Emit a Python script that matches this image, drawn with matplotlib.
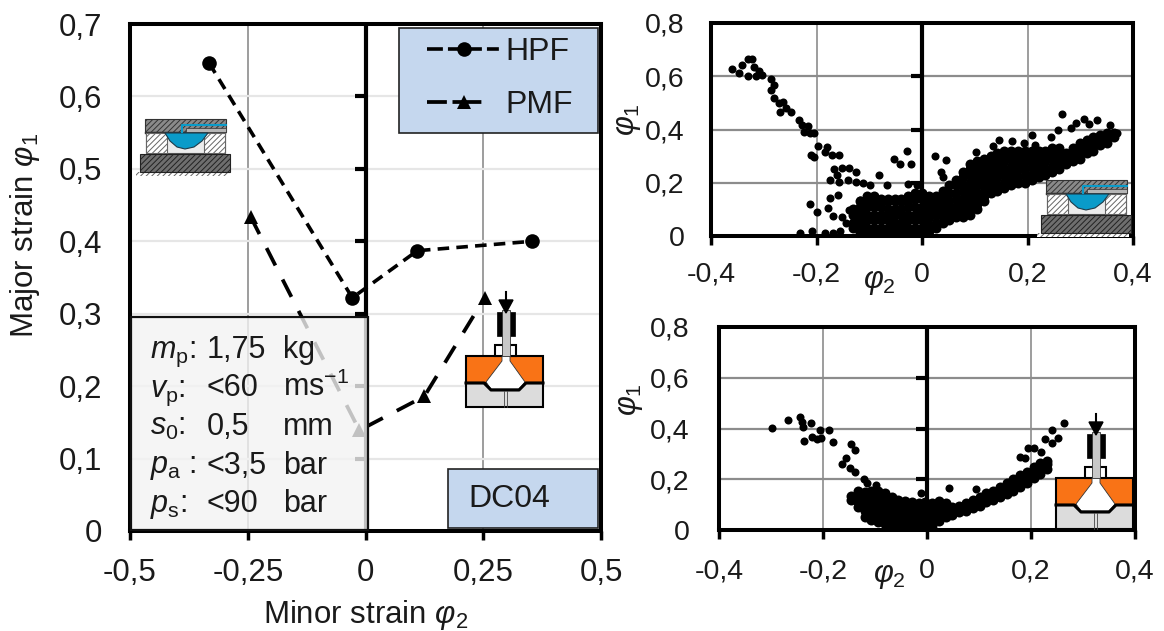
"""Forming limit style chart: main strain plot with two scatter panels."""
import matplotlib
matplotlib.use("Agg")
import matplotlib.pyplot as plt
from matplotlib.lines import Line2D
from matplotlib.patches import Polygon, Rectangle

plt.rcParams["font.family"] = ["Liberation Sans", "DejaVu Sans"]
plt.rcParams["mathtext.fontset"] = "custom"
plt.rcParams["mathtext.rm"] = "Liberation Sans"
plt.rcParams["mathtext.it"] = "Liberation Sans:italic"
plt.rcParams["mathtext.bf"] = "Liberation Sans:bold"
plt.rcParams["hatch.linewidth"] = 0.7

W, H = 1164, 631
INK = "#1a1a1a"

# Main chart
hpf_phi2 = [-0.332, -0.028, 0.110, 0.354]
hpf_phi1 = [0.646, 0.322, 0.387, 0.400]
pmf_phi2 = [-0.244, -0.013, 0.125, 0.253]
pmf_phi1 = [0.434, 0.139, 0.186, 0.322]
main_xticks = [-0.5, -0.25, 0, 0.25, 0.5]
main_xlabels = ["-0,5", "-0,25", "0", "0,25", "0,5"]
main_yticks = [0, 0.1, 0.2, 0.3, 0.4, 0.5, 0.6, 0.7]
main_ylabels = ["0", "0,1", "0,2", "0,3", "0,4", "0,5", "0,6", "0,7"]

# Parameter box
param_names = ["$m_{\\mathrm{p}}$:", "$v_{\\mathrm{p}}$:", "$s_{0}$:", "$p_{\\mathrm{a}}$ :", "$p_{\\mathrm{s}}$:"]
param_values = ["1,75", "<60", "0,5", "<3,5", "<90"]
param_units = ["kg", "ms$^{-1}$", "mm", "bar", "bar"]

# Small panels
small_xticks = [-0.4, -0.2, 0, 0.2, 0.4]
small_xlabels = ["-0,4", "-0,2", "0", "0,2", "0,4"]
small_yticks = [0, 0.2, 0.4, 0.6, 0.8]
small_ylabels = ["0", "0,2", "0,4", "0,6", "0,8"]

# HPF scatter, loose points
top_x = [-0.360, -0.347, -0.342, -0.330, -0.322, -0.330, -0.319, -0.309, -0.314, -0.304,
         -0.286, -0.280, -0.286, -0.280, -0.271, -0.263, -0.270, -0.257, -0.249, -0.234,
         -0.227, -0.217, -0.224, -0.212, -0.204, -0.197, -0.181, -0.184, -0.210, -0.204,
         -0.171, -0.158, -0.166, -0.151, -0.138, -0.125, -0.161, -0.174, -0.158, -0.141,
         -0.125, -0.112, -0.099, -0.082, -0.066, -0.053, -0.041, -0.029, -0.021, -0.026,
         -0.010, 0.025, 0.046, 0.036, 0.039, 0.102, 0.135, 0.146, 0.171, 0.194,
         0.209, 0.214, 0.245, 0.258, 0.2645, 0.283, 0.291, 0.308, 0.316, 0.332,
         0.357, 0.370, -0.212, -0.200, -0.174, -0.178, -0.159, -0.169, -0.232, -0.209,
         -0.184, -0.168, -0.155, -0.151, -0.138, -0.118, -0.145]
top_y = [0.626, 0.612, 0.641, 0.663, 0.666, 0.600, 0.635, 0.620, 0.600, 0.604,
         0.588, 0.566, 0.550, 0.520, 0.498, 0.504, 0.466, 0.479, 0.466, 0.435,
         0.416, 0.412, 0.391, 0.388, 0.385, 0.338, 0.335, 0.316, 0.304, 0.298,
         0.306, 0.304, 0.250, 0.254, 0.256, 0.241, 0.229, 0.212, 0.204, 0.210,
         0.204, 0.198, 0.191, 0.229, 0.191, 0.291, 0.272, 0.319, 0.272, 0.195,
         0.191, 0.300, 0.285, 0.241, 0.222, 0.314, 0.339, 0.362, 0.358, 0.350,
         0.379, 0.341, 0.372, 0.400, 0.458, 0.404, 0.425, 0.441, 0.422, 0.435,
         0.416, 0.388, 0.122, 0.089, 0.144, 0.104, 0.154, 0.075, 0.012, 0.019,
         0.012, 0.012, 0.019, 0.072, 0.098, 0.135, 0.048]

# HPF scatter, dense cloud listed column by column
top_cloud_x = [-0.130, -0.117, -0.104, -0.091, -0.078, -0.065, -0.052, -0.039, -0.026, -0.013,
               0.000, 0.013, 0.026, 0.039, 0.052, 0.065, 0.078, 0.091, 0.104, 0.117,
               0.130, 0.143, 0.156, 0.169, 0.182, 0.195, 0.208, 0.221, 0.234, 0.247,
               0.260, 0.273, 0.286, 0.299, 0.312, 0.325, 0.338, 0.351, 0.364]
top_cloud_y = [
    [0.03, 0.05, 0.08, 0.10],
    [0.01, 0.04, 0.06, 0.09, 0.11, 0.13],
    [0.01, 0.03, 0.06, 0.08, 0.11, 0.13, 0.15],
    [0.01, 0.03, 0.06, 0.08, 0.11, 0.13, 0.15],
    [0.01, 0.03, 0.06, 0.08, 0.11, 0.13, 0.14],
    [0.01, 0.03, 0.06, 0.08, 0.10, 0.13, 0.14],
    [0.01, 0.03, 0.05, 0.08, 0.10, 0.13, 0.14],
    [0.01, 0.03, 0.05, 0.08, 0.10, 0.13, 0.14],
    [0.01, 0.03, 0.06, 0.08, 0.11, 0.13, 0.15],
    [0.01, 0.03, 0.06, 0.08, 0.11, 0.14, 0.16],
    [0.01, 0.03, 0.06, 0.09, 0.11, 0.14, 0.16],
    [0.02, 0.04, 0.07, 0.09, 0.12, 0.15],
    [0.03, 0.05, 0.08, 0.10, 0.13, 0.15],
    [0.05, 0.07, 0.09, 0.12, 0.14, 0.17],
    [0.06, 0.08, 0.11, 0.13, 0.16, 0.19],
    [0.07, 0.09, 0.11, 0.14, 0.16, 0.19, 0.21],
    [0.07, 0.09, 0.12, 0.14, 0.17, 0.19, 0.22, 0.24],
    [0.08, 0.10, 0.13, 0.15, 0.18, 0.20, 0.23, 0.25, 0.27],
    [0.10, 0.12, 0.14, 0.16, 0.19, 0.21, 0.24, 0.26, 0.28],
    [0.13, 0.15, 0.17, 0.19, 0.22, 0.24, 0.27, 0.29],
    [0.16, 0.18, 0.21, 0.23, 0.26, 0.28, 0.30],
    [0.17, 0.19, 0.22, 0.24, 0.27, 0.29, 0.31],
    [0.18, 0.20, 0.23, 0.25, 0.28, 0.30, 0.32],
    [0.19, 0.21, 0.24, 0.26, 0.29, 0.31, 0.32],
    [0.20, 0.22, 0.25, 0.27, 0.30, 0.32],
    [0.20, 0.23, 0.25, 0.28, 0.30, 0.32],
    [0.21, 0.23, 0.26, 0.28, 0.30, 0.32],
    [0.22, 0.24, 0.27, 0.30, 0.32],
    [0.23, 0.25, 0.28, 0.30, 0.32],
    [0.24, 0.26, 0.29, 0.31, 0.33],
    [0.25, 0.27, 0.30, 0.32, 0.33],
    [0.27, 0.29, 0.31],
    [0.28, 0.30, 0.33],
    [0.29, 0.31, 0.34, 0.35],
    [0.31, 0.33, 0.36],
    [0.32, 0.34, 0.37],
    [0.34, 0.36, 0.38],
    [0.35, 0.37, 0.385],
    [0.37, 0.385],
]

# PMF scatter, loose points
bot_x = [-0.298, -0.268, -0.244, -0.241, -0.238, -0.223, -0.236, -0.221, -0.211, -0.205,
         -0.203, -0.188, -0.180, -0.146, -0.138, -0.156, -0.163, -0.148, -0.138, -0.121,
         -0.115, -0.098, -0.011, 0.042, 0.095, 0.195, 0.205, 0.179, 0.189, 0.227,
         0.241, 0.263, 0.251, 0.241, 0.219]
bot_y = [0.403, 0.433, 0.446, 0.426, 0.407, 0.420, 0.352, 0.365, 0.357, 0.394,
         0.361, 0.394, 0.346, 0.337, 0.315, 0.282, 0.261, 0.243, 0.230, 0.200,
         0.186, 0.177, 0.144, 0.164, 0.160, 0.322, 0.322, 0.289, 0.282, 0.357,
         0.396, 0.420, 0.361, 0.341, 0.308]

# PMF scatter, dense cloud listed column by column
bot_cloud_x = [-0.146, -0.133, -0.120, -0.107, -0.094, -0.081, -0.068, -0.055, -0.042, -0.029,
               -0.016, -0.003, 0.010, 0.023, 0.036, 0.049, 0.062, 0.075, 0.088, 0.101,
               0.114, 0.127, 0.140, 0.153, 0.166, 0.179, 0.192, 0.205, 0.218, 0.231]
bot_cloud_y = [
    [0.12, 0.135],
    [0.09, 0.11, 0.135, 0.155],
    [0.05, 0.075, 0.10, 0.125, 0.15],
    [0.04, 0.06, 0.085, 0.11, 0.13, 0.155],
    [0.03, 0.05, 0.075, 0.10, 0.12, 0.145, 0.155],
    [0.025, 0.045, 0.07, 0.09, 0.115, 0.135, 0.145],
    [0.02, 0.04, 0.065, 0.085, 0.11, 0.13],
    [0.015, 0.035, 0.06, 0.08, 0.10, 0.12],
    [0.01, 0.03, 0.055, 0.08, 0.10, 0.115],
    [0.0, 0.025, 0.05, 0.075, 0.10, 0.11],
    [0.0, 0.025, 0.05, 0.075, 0.095, 0.105],
    [0.0, 0.025, 0.05, 0.075, 0.10, 0.11],
    [0.015, 0.035, 0.06, 0.085, 0.105],
    [0.035, 0.055, 0.08, 0.105, 0.115],
    [0.05, 0.07, 0.09, 0.105],
    [0.06, 0.075, 0.09],
    [0.07, 0.085, 0.095],
    [0.075, 0.09, 0.105],
    [0.085, 0.10, 0.12],
    [0.095, 0.115, 0.13],
    [0.11, 0.13, 0.145],
    [0.12, 0.14, 0.155],
    [0.13, 0.15, 0.17],
    [0.14, 0.16, 0.185],
    [0.155, 0.175, 0.20],
    [0.17, 0.19, 0.215],
    [0.185, 0.205, 0.23],
    [0.205, 0.225, 0.25],
    [0.22, 0.24, 0.265],
    [0.24, 0.26, 0.27],
]


def axes_px(fig, left, top, right, bottom):
    return fig.add_axes([left / W, 1 - bottom / H, (right - left) / W, (bottom - top) / H])


def style_axes(ax, xt, xl, yt, yl, xlim, ylim, fs, ypad, xpad, ygrid):
    ax.set_xlim(xlim)
    ax.set_ylim(ylim)
    ax.set_xticks(xt, xl, fontsize=fs)
    ax.set_yticks(yt, yl, fontsize=fs)
    ax.tick_params(axis="x", length=6.5, width=2.5, pad=xpad, color="black", labelcolor=INK)
    ax.tick_params(axis="y", length=0, pad=ypad, labelcolor=INK)
    ax.grid(True, axis="x", color="#8c8c8c", lw=1.2)
    ax.grid(True, axis="y", color=ygrid, lw=1.6)
    ax.set_axisbelow(True)
    for spine in ax.spines.values():
        spine.set_linewidth(2.9)
    # y axis crosses at x=0, its ticks point to the left of it
    ax.axvline(0, color="black", lw=3, zorder=2)
    ax.plot([0] * (len(yt) - 2), yt[1:-1], ls="none", marker=0, ms=8, mew=3, color="black", zorder=2)


def scatter_panel(ax, x, y, cloud_x, cloud_y):
    ax.plot(x, y, "o", color="black", ms=5.8, mew=0, zorder=3)
    for cx, ys in zip(cloud_x, cloud_y):
        ax.plot([cx] * len(ys), ys, "o", color="black", ms=7.2, mew=0, zorder=3)


def rect(ov, x0, y0, x1, y1, fc, ec="black", lw=0.8, hatch=None, z=5):
    ov.add_patch(Rectangle((x0, y0), x1 - x0, y1 - y0, facecolor=fc, edgecolor=ec,
                           lw=lw, hatch=hatch, zorder=z))


def hpf_icon(ov, ox, oy):
    dark = "#333333"
    # top plate with the fluid channel
    rect(ov, ox + 5, oy, ox + 86, oy + 13, "#8a8a8a", ec=dark, hatch="//////")
    rect(ov, ox + 5, oy + 13, ox + 86, oy + 15, "#333333", ec="#333333", lw=0.3)
    rect(ov, ox + 46, oy + 9, ox + 86, oy + 13, "#b5b5b5", ec=dark, lw=0.5, z=6)
    ov.plot([ox + 42, ox + 42, ox + 86], [oy + 13, oy + 6, oy + 6], color="#0a9bc9", lw=1.5, zorder=7)
    # die with blue dome
    rect(ov, ox + 6, oy + 14, ox + 85, oy + 34, "#ececec", ec="#555555")
    rect(ov, ox + 6, oy + 14, ox + 27, oy + 34, "white", ec="#666666", hatch="//////")
    rect(ov, ox + 64, oy + 14, ox + 85, oy + 34, "white", ec="#666666", hatch="//////")
    dome = [(ox + 25, oy + 14), (ox + 68, oy + 14), (ox + 62, oy + 22), (ox + 54, oy + 28),
            (ox + 45, oy + 30), (ox + 37, oy + 28), (ox + 30, oy + 22)]
    ov.add_patch(Polygon(dome, closed=True, facecolor="#0a9bc9", edgecolor="#1d3b4a", lw=0.8, zorder=6))
    # base plate and ground line
    rect(ov, ox, oy + 35, ox + 90, oy + 53, "#6e6e6e", ec="#222222", hatch="//////")
    ov.add_patch(Rectangle((ox - 4, oy + 53), 92, 3.5, facecolor="white", edgecolor="#666666",
                           lw=0, hatch="//////", zorder=4))


def pmf_icon(ov, ox, oy):
    # ox, oy is the top left corner of the orange die
    rect(ov, ox, oy, ox + 77, oy + 27, "#f97316", ec="black", lw=1.5)
    rect(ov, ox, oy + 27, ox + 77, oy + 51, "#dcdcdc", ec="black", lw=1.5)
    funnel = [(ox + 36, oy), (ox + 44, oy), (ox + 44, oy + 5), (ox + 59, oy + 26), (ox + 53, oy + 33),
              (ox + 25, oy + 33), (ox + 20, oy + 26), (ox + 36, oy + 5)]
    ov.add_patch(Polygon(funnel, closed=True, facecolor="white", edgecolor="#333333", lw=0.6, zorder=6))
    # sheet lying in the die
    ov.plot([ox, ox + 18, ox + 25, ox + 53, ox + 60, ox + 77],
            [oy + 27, oy + 27, oy + 34, oy + 34, oy + 27, oy + 27], color="black", lw=2.2, zorder=7)
    ov.plot([ox + 38, ox + 38], [oy + 35, oy + 51], color="#444444", lw=0.6, zorder=7)
    ov.plot([ox + 41, ox + 41], [oy + 35, oy + 51], color="#444444", lw=0.6, zorder=7)
    # injector above the die
    rect(ov, ox + 29, oy - 11, ox + 50, oy, "white", ec="black", lw=1.5)
    rect(ov, ox + 31, oy - 44, ox + 49, oy - 20, "black", ec="black", lw=0.5)
    rect(ov, ox + 36, oy - 46, ox + 44, oy, "#c8c8c8", ec="#333333", lw=0.6, z=7)
    ov.add_patch(Polygon([(ox + 33, oy - 56), (ox + 47, oy - 56), (ox + 40, oy - 43)],
                         closed=True, facecolor="black", edgecolor="black", zorder=8))
    ov.plot([ox + 40, ox + 40], [oy - 64, oy - 50], color="black", lw=1.5, zorder=8)


fig = plt.figure(figsize=(W / 100, H / 100), dpi=100, facecolor="white")

ax = axes_px(fig, 130, 24, 601, 531)
style_axes(ax, main_xticks, main_xlabels, main_yticks, main_ylabels,
           (-0.5, 0.5), (0, 0.7), 22.5, 20, 13, "#e6e6e6")
ax.plot(hpf_phi2, hpf_phi1, color="black", lw=2.6, ls=(0, (3.2, 2.0)),
        marker="o", ms=10.5, mew=0, zorder=4, clip_on=False)
ax.plot(pmf_phi2, pmf_phi1, color="black", lw=2.7, ls=(0, (5.2, 4.2)),
        marker="^", ms=10, mew=0, zorder=4, clip_on=False)

ax_top = axes_px(fig, 711, 23, 1133, 236)
style_axes(ax_top, small_xticks, small_xlabels, small_yticks, small_ylabels,
           (-0.4, 0.4), (0, 0.8), 20.5, 19, 12, "#8c8c8c")
scatter_panel(ax_top, top_x, top_y, top_cloud_x, top_cloud_y)

ax_bot = axes_px(fig, 719, 327, 1135, 530)
style_axes(ax_bot, small_xticks, small_xlabels, small_yticks, small_ylabels,
           (-0.4, 0.4), (0, 0.8), 20.5, 21, 14, "#8c8c8c")
scatter_panel(ax_bot, bot_x, bot_y, bot_cloud_x, bot_cloud_y)

# Overlay in pixel coordinates for boxes, schematics and free labels
ov = fig.add_axes([0, 0, 1, 1], facecolor="none")
ov.set_xlim(0, W)
ov.set_ylim(H, 0)
ov.axis("off")

rect(ov, 399, 28, 598, 133, "#c5d7ee", ec="#222222", lw=1.2, z=2)
# legend handles have their own dash pattern so the wings sit around the marker
hpf_handle = Line2D([], [], color="black", lw=2.6, ls=(0, (4.4, 1.4, 9.4, 1.4, 3.3, 5)), marker="o", ms=10.5, mew=0)
pmf_handle = Line2D([], [], color="black", lw=2.7, ls=(0, (5.3, 1.5, 7.7, 10)), marker="^", ms=10, mew=0)
ov.legend([hpf_handle, pmf_handle], ["HPF", "PMF"], loc="upper left", bbox_to_anchor=(427, 37),
          bbox_transform=ov.transData, frameon=False, fontsize=23, labelcolor=INK,
          handlelength=2.3, handletextpad=0.15, labelspacing=0.72, borderpad=0, borderaxespad=0)

rect(ov, 448, 469, 598, 528, "#c5d7ee", ec="#222222", lw=1.2, z=2)
ov.text(468, 499, "DC04", fontsize=23, color=INK, va="center", zorder=3)

# Parameter box is slightly see-through, the PMF line shows behind it
ov.add_patch(Rectangle((131, 317), 237, 213, facecolor="#f3f3f3", edgecolor="none", alpha=0.8, zorder=2))
ov.add_patch(Rectangle((131, 317), 237, 213, facecolor="none", edgecolor="#111111", lw=1.6, zorder=3))
for row, (name, value, unit) in enumerate(zip(param_names, param_values, param_units)):
    base = 358 + row * 38.5
    ov.text(150, base, name, fontsize=22, color=INK, va="baseline", zorder=4)
    ov.text(207, base, value, fontsize=22, color=INK, va="baseline", zorder=4)
    ov.text(283, base, unit, fontsize=22, color=INK, va="baseline", zorder=4)

hpf_icon(ov, 140, 119)
hpf_icon(ov, 1041, 180)
pmf_icon(ov, 466, 356)
pmf_icon(ov, 1056, 478)

# Axis labels
ov.text(366, 615, "Minor strain $\\varphi_{2}$", fontsize=22.5, color=INK, ha="center", va="center")
ov.text(25, 235, "Major strain $\\varphi_{1}$", fontsize=22.5, color=INK, rotation=90, ha="center", va="center")
ov.text(628, 120, "$\\varphi_{1}$", fontsize=22, color=INK, rotation=90, ha="center", va="center")
ov.text(630, 400, "$\\varphi_{1}$", fontsize=22, color=INK, rotation=90, ha="center", va="center")
ov.text(879, 282, "$\\varphi_{2}$", fontsize=22, color=INK, ha="center", va="center")
ov.text(889, 576, "$\\varphi_{2}$", fontsize=22, color=INK, ha="center", va="center")

fig.savefig("out.png", dpi=100, facecolor="white")
